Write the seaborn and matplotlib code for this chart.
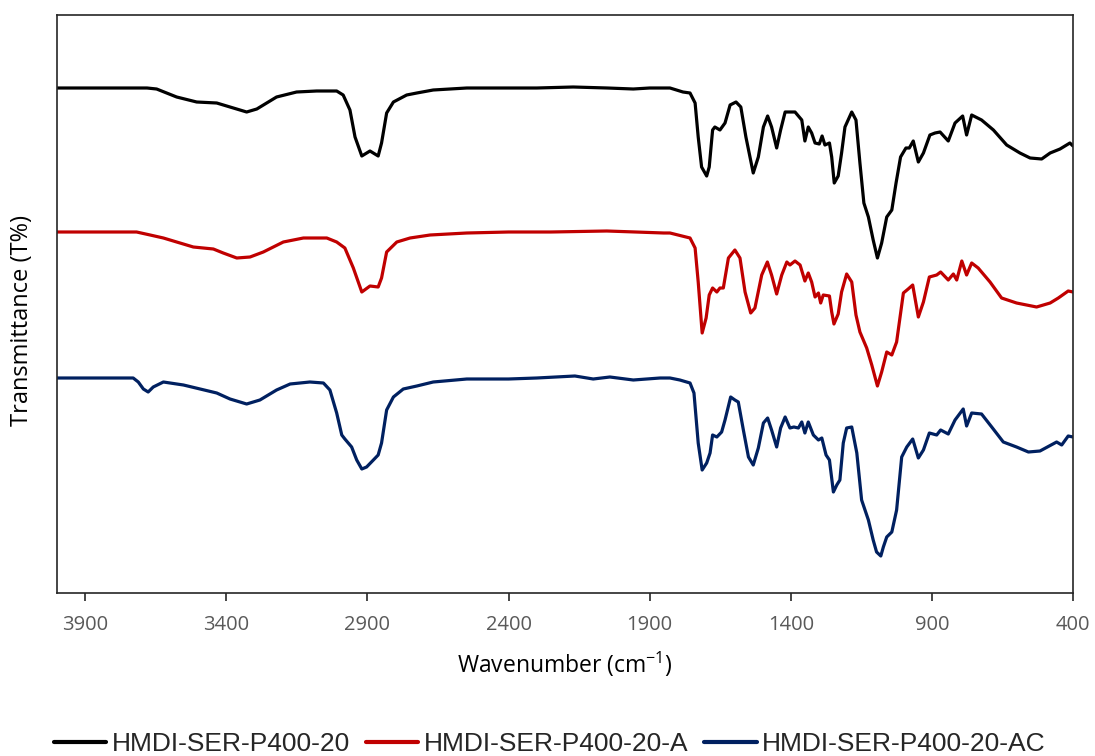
import numpy as np
import pandas as pd
import matplotlib
matplotlib.use("Agg")
import matplotlib.pyplot as plt
import seaborn as sns
from matplotlib.lines import Line2D

# ---------------- data (wavenumber in cm-1, transmittance in arbitrary offset units) -------------
wn_a = [4000, 3681, 3647, 3576, 3505, 3434, 3387, 3328, 3292, 3222, 3151, 3080, 3009, 2986, 2962,
        2944, 2920, 2891, 2862, 2850, 2832, 2808, 2761, 2725, 2667, 2548, 2400, 2300, 2171, 2050,
        1958, 1900, 1828, 1782, 1757, 1739, 1728, 1716, 1698, 1689, 1677, 1669, 1651, 1633, 1615,
        1594, 1577, 1559, 1533, 1515, 1497, 1482, 1468, 1450, 1436, 1420, 1385, 1361, 1350, 1338,
        1326, 1314, 1299, 1289, 1279, 1263, 1255, 1246, 1232, 1220, 1208, 1184, 1169, 1155, 1141,
        1125, 1108, 1093, 1078, 1060, 1042, 1027, 1011, 992, 980, 966, 948, 930, 907, 889,
        871, 842, 818, 791, 777, 759, 724, 682, 635, 588, 552, 511, 481, 446, 411, 400]
t_a = [505, 505, 504, 496, 491, 490, 486, 481, 484, 496, 501, 502, 502, 498, 483,
       456, 437, 442, 437, 450, 480, 491, 498, 500, 503, 505, 505, 505, 506, 505,
       504, 505, 505, 501, 500, 490, 456, 426, 417, 426, 463, 466, 463, 470, 488,
       491, 486, 456, 420, 436, 466, 477, 466, 445, 463, 481, 481, 473, 452, 466,
       460, 450, 449, 457, 448, 450, 436, 410, 417, 440, 466, 481, 473, 430, 390,
       376, 353, 335, 350, 376, 383, 410, 436, 445, 445, 452, 431, 440, 458, 460,
       461, 452, 470, 477, 458, 478, 473, 463, 448, 440, 435, 434, 440, 444, 450, 447]

wn_b = [4000, 3718, 3670, 3623, 3576, 3517, 3446, 3411, 3363, 3316, 3269, 3198, 3127, 3044, 3009,
        2980, 2950, 2920, 2891, 2862, 2850, 2832, 2796, 2749, 2678, 2548, 2400, 2250, 2052, 1950,
        1850, 1828, 1757, 1739, 1728, 1714, 1700, 1689, 1677, 1662, 1651, 1639, 1621, 1598, 1580,
        1562, 1542, 1527, 1503, 1483, 1468, 1450, 1432, 1414, 1403, 1385, 1367, 1350, 1338, 1326,
        1314, 1302, 1294, 1285, 1263, 1255, 1247, 1232, 1220, 1202, 1184, 1169, 1155, 1131, 1113,
        1093, 1078, 1060, 1042, 1025, 1001, 984, 968, 948, 930, 909, 883, 869, 842, 824,
        812, 794, 777, 759, 736, 694, 653, 600, 529, 481, 452, 417, 400]
t_b = [361, 361, 358, 355, 351, 346, 344, 340, 335, 336, 341, 351, 355, 355, 351,
       345, 325, 301, 307, 306, 315, 341, 351, 355, 358, 360, 361, 361, 362, 361,
       360, 360, 355, 345, 311, 260, 275, 298, 305, 301, 305, 305, 335, 343, 335,
       301, 280, 285, 318, 331, 318, 299, 318, 331, 328, 332, 328, 312, 320, 311,
       296, 300, 290, 298, 297, 281, 269, 279, 301, 319, 311, 278, 261, 245, 228,
       207, 221, 241, 238, 251, 300, 304, 308, 276, 291, 316, 318, 321, 313, 319,
       313, 332, 318, 330, 325, 311, 295, 290, 286, 290, 295, 302, 301]

wn_c = [4000, 3730, 3712, 3694, 3677, 3659, 3623, 3552, 3493, 3434, 3387, 3328, 3281, 3222, 3174,
        3104, 3056, 3033, 3009, 2991, 2980, 2956, 2938, 2920, 2903, 2879, 2862, 2850, 2832, 2808,
        2773, 2725, 2667, 2548, 2400, 2300, 2165, 2100, 2041, 1958, 1863, 1828, 1793, 1757, 1743,
        1728, 1714, 1698, 1686, 1677, 1662, 1645, 1633, 1613, 1598, 1586, 1568, 1550, 1533, 1515,
        1497, 1482, 1468, 1450, 1436, 1420, 1403, 1389, 1373, 1361, 1350, 1338, 1320, 1302, 1290,
        1275, 1263, 1249, 1237, 1226, 1214, 1202, 1184, 1166, 1149, 1125, 1108, 1096, 1081, 1072,
        1060, 1042, 1025, 1007, 989, 968, 948, 930, 909, 883, 869, 842, 818, 789, 777,
        759, 724, 688, 647, 600, 558, 517, 458, 440, 417, 400]
t_c = [215, 215, 211, 204, 201, 206, 211, 208, 204, 200, 194, 189, 193, 203, 209,
       211, 210, 203, 180, 158, 154, 146, 133, 124, 126, 133, 138, 150, 183, 196,
       204, 207, 211, 214, 214, 215, 217, 214, 216, 213, 215, 215, 213, 210, 200,
       150, 123, 130, 140, 158, 156, 161, 173, 196, 193, 191, 163, 136, 128, 145,
       170, 175, 163, 146, 165, 176, 165, 166, 165, 171, 160, 171, 158, 153, 155,
       138, 133, 101, 108, 113, 150, 165, 166, 140, 93, 73, 53, 41, 37, 46,
       56, 61, 83, 136, 146, 154, 135, 143, 160, 158, 163, 159, 173, 184, 167,
       180, 179, 166, 151, 146, 141, 142, 151, 148, 157, 156]

series_names = ["HMDI-SER-P400-20", "HMDI-SER-P400-20-A", "HMDI-SER-P400-20-AC"]
colors = ["#000000", "#C00000", "#002060"]
x_ticks = [3900, 3400, 2900, 2400, 1900, 1400, 900, 400]

df = pd.concat([
    pd.DataFrame({"Wavenumber": wn_a, "T": t_a, "Sample": series_names[0]}),
    pd.DataFrame({"Wavenumber": wn_b, "T": t_b, "Sample": series_names[1]}),
    pd.DataFrame({"Wavenumber": wn_c, "T": t_c, "Sample": series_names[2]}),
], ignore_index=True)

# ---------------- plot ----------------
sns.set_theme(style="white")
plt.rcParams["font.family"] = ["Open Sans", "DejaVu Sans"]
plt.rcParams["mathtext.default"] = "regular"

fig = plt.figure(figsize=(10.95, 7.56), dpi=100)
ax = fig.add_axes([57 / 1095, 1 - 593 / 756, (1073 - 57) / 1095, (593 - 15) / 756])

sns.lineplot(data=df, x="Wavenumber", y="T", hue="Sample", palette=colors,
             hue_order=series_names, estimator=None, sort=False, linewidth=2.3,
             legend=False, ax=ax)

ax.set_xlim(4000, 400)
ax.set_ylim(0, 578)
ax.set_xticks(x_ticks)
ax.set_xticklabels([str(v) for v in x_ticks], fontsize=14.5, color="#595959")
ax.set_yticks([])
ax.tick_params(axis="x", direction="out", length=6, width=1.2, color="#262626",
               bottom=True, pad=10)
for s in ax.spines.values():
    s.set_color("#262626")
    s.set_linewidth(1.2)

ax.set_xlabel("Wavenumber (cm$^{-1}$)", fontsize=16.5, color="#000000")
ax.xaxis.set_label_coords(0.5, (593 - 664) / 578)
ax.xaxis.label.set_verticalalignment("center")
ax.set_ylabel("Transmittance (T%)", fontsize=17, color="#000000")
ax.yaxis.set_label_coords((22 - 57) / 1016, (593 - 320) / 578)
ax.yaxis.label.set_verticalalignment("center")

handles = [Line2D([0], [0], color=c, lw=3) for c in colors]
fig.legend(handles, series_names, loc="center", bbox_to_anchor=(0.502, 1 - 744 / 756),
           ncol=3, frameon=False, handlelength=2.0, handletextpad=0.2, columnspacing=0.6,
           prop={"family": ["Liberation Sans", "DejaVu Sans"], "size": 19})

fig.savefig("out.png", dpi=100)
